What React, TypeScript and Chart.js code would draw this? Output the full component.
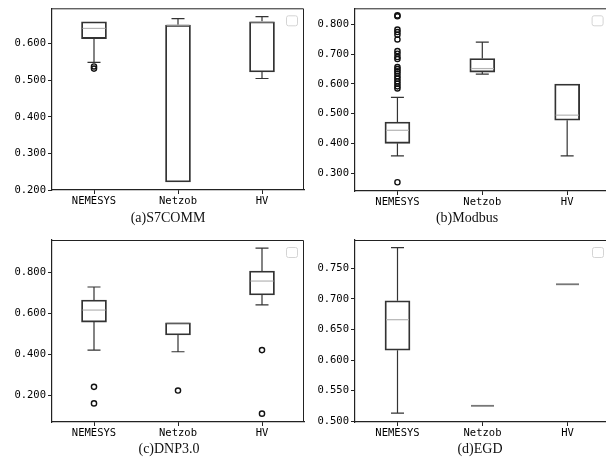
import React, { useEffect, useRef } from "react";
import { Chart, registerables } from "chart.js";
Chart.register(...registerables);

const categories = ["NEMESYS", "Netzob", "HV"];

// (a) S7COMM
const s7Low = [0.549, 0.222, 0.505];
const s7Q1 = [0.614, 0.222, 0.523];
const s7Median = [0.642, 0.651, 0.66];
const s7Q3 = [0.66, 0.651, 0.66];
const s7High = [0.66, 0.669, 0.674];
const s7Outliers = [[0.538, 0.532], [], []];
const s7Ticks = [0.2, 0.3, 0.4, 0.5, 0.6];

// (b) Modbus
const modLow = [0.358, 0.633, 0.358];
const modQ1 = [0.4, 0.64, 0.478];
const modMedian = [0.444, 0.652, 0.495];
const modQ3 = [0.472, 0.686, 0.6];
const modHigh = [0.555, 0.741, 0.6];
const modOutliers = [
  [0.269, 0.831, 0.828, 0.783, 0.775, 0.766, 0.75, 0.711, 0.702, 0.691, 0.684, 0.657, 0.65, 0.643, 0.635, 0.626, 0.618, 0.609, 0.601, 0.592, 0.585],
  [],
  [],
];
const modTicks = [0.3, 0.4, 0.5, 0.6, 0.7, 0.8];

// (c) DNP3.0
const dnpLow = [0.421, 0.413, 0.642];
const dnpQ1 = [0.558, 0.495, 0.691];
const dnpMedian = [0.617, 0.555, 0.759];
const dnpQ3 = [0.666, 0.555, 0.808];
const dnpHigh = [0.73, 0.555, 0.92];
const dnpOutliers = [[0.241, 0.16], [0.223], [0.421, 0.11]];
const dnpTicks = [0.2, 0.4, 0.6, 0.8];

// (d) EGD
const egdLow = [0.513, 0.525, 0.724];
const egdQ1 = [0.616, 0.525, 0.724];
const egdMedian = [0.666, 0.525, 0.724];
const egdQ3 = [0.697, 0.525, 0.724];
const egdHigh = [0.784, 0.525, 0.724];
const egdOutliers = [[], [], []];
const egdTicks = [0.5, 0.55, 0.6, 0.65, 0.7, 0.75];

type Panel = {
  caption: string;
  left: number;
  top: number;
  plotTop: number;
  plotBottom: number;
  plotRight: number;
  yMin: number;
  yMax: number;
  captionX: number;
  captionY: number;
  low: number[];
  q1: number[];
  median: number[];
  q3: number[];
  high: number[];
  outliers: number[][];
  ticks: number[];
};

const panels: Panel[] = [
  { caption: "(a)S7COMM", left: 0, top: 0, plotTop: 7, plotBottom: 190, plotRight: 304, yMin: 0.2, yMax: 0.697, captionX: 168, captionY: 210,
    low: s7Low, q1: s7Q1, median: s7Median, q3: s7Q3, high: s7High, outliers: s7Outliers, ticks: s7Ticks },
  { caption: "(b)Modbus", left: 303, top: 0, plotTop: 8, plotBottom: 191, plotRight: 307, yMin: 0.2395, yMax: 0.855, captionX: 467, captionY: 210,
    low: modLow, q1: modQ1, median: modMedian, q3: modQ3, high: modHigh, outliers: modOutliers, ticks: modTicks },
  { caption: "(c)DNP3.0", left: 0, top: 231, plotTop: 9, plotBottom: 191, plotRight: 304, yMin: 0.069, yMax: 0.96, captionX: 169, captionY: 441,
    low: dnpLow, q1: dnpQ1, median: dnpMedian, q3: dnpQ3, high: dnpHigh, outliers: dnpOutliers, ticks: dnpTicks },
  { caption: "(d)EGD", left: 303, top: 231, plotTop: 9, plotBottom: 191, plotRight: 307, yMin: 0.4985, yMax: 0.7965, captionX: 480, captionY: 441,
    low: egdLow, q1: egdQ1, median: egdMedian, q3: egdQ3, high: egdHigh, outliers: egdOutliers, ticks: egdTicks },
];

const CANVAS_W = 312;
const CANVAS_H = 215;
const Y_AXIS_W = 52;
const BOX_W = 25;
const CAP_W = 13;
const EDGE = "#333333";
const MEDIAN = "#b4b4b4";
const tickFont = { family: "'DejaVu Sans Mono', monospace", size: 10.5 };

function BoxPanel({ p }: { p: Panel }) {
  const ref = useRef<HTMLCanvasElement | null>(null);
  useEffect(() => {
    if (!ref.current) return;
    const extras = {
      id: "boxExtras",
      afterDatasetsDraw(chart: any) {
        const { ctx, chartArea, scales } = chart;
        const x = scales.x;
        const y = scales.y;
        ctx.save();
        ctx.lineWidth = 1.2;
        categories.forEach((_, i) => {
          const cx = x.getPixelForValue(i);
          const yl = y.getPixelForValue(p.low[i]);
          const y1 = y.getPixelForValue(p.q1[i]);
          const y3 = y.getPixelForValue(p.q3[i]);
          const yh = y.getPixelForValue(p.high[i]);
          const ym = y.getPixelForValue(p.median[i]);
          ctx.strokeStyle = EDGE;
          ctx.beginPath();
          ctx.moveTo(cx, y1);
          ctx.lineTo(cx, yl);
          ctx.moveTo(cx, y3);
          ctx.lineTo(cx, yh);
          if (Math.abs(yl - y1) > 0.5) {
            ctx.moveTo(cx - CAP_W / 2, yl);
            ctx.lineTo(cx + CAP_W / 2, yl);
          }
          if (Math.abs(yh - y3) > 0.5) {
            ctx.moveTo(cx - CAP_W / 2, yh);
            ctx.lineTo(cx + CAP_W / 2, yh);
          }
          ctx.stroke();
          const collapsed = Math.abs(y3 - y1) < 0.5;
          ctx.strokeStyle = collapsed ? "#777777" : MEDIAN;
          ctx.lineWidth = collapsed ? 1.8 : 1.2;
          ctx.beginPath();
          ctx.moveTo(cx - BOX_W / 2 + 1, ym);
          ctx.lineTo(cx + BOX_W / 2 - 1, ym);
          ctx.stroke();
          ctx.lineWidth = 1.2;
        });
        // top and right spines
        ctx.strokeStyle = "#222222";
        ctx.lineWidth = 1;
        ctx.beginPath();
        ctx.moveTo(chartArea.left, chartArea.top + 0.5);
        ctx.lineTo(chartArea.right - 0.5, chartArea.top + 0.5);
        ctx.lineTo(chartArea.right - 0.5, chartArea.bottom);
        ctx.stroke();
        // empty legend frame
        ctx.strokeStyle = "#d4d4d4";
        ctx.beginPath();
        ctx.roundRect(chartArea.right - 17.5, chartArea.top + 7.5, 11, 10, 2);
        ctx.stroke();
        ctx.restore();
      },
    };
    const outlierData: any[] = [];
    p.outliers.forEach((list, i) => list.forEach((v) => outlierData.push({ x: categories[i], y: v })));
    const chart = new Chart(ref.current, {
      type: "bar",
      data: {
        labels: categories,
        datasets: [
          {
            type: "bar",
            data: categories.map((_, i) => [p.q1[i], p.q3[i]]),
            backgroundColor: "rgba(255,255,255,0)",
            borderColor: EDGE,
            borderWidth: 1.2,
            borderSkipped: false,
            barThickness: BOX_W,
          } as any,
          {
            type: "line",
            data: outlierData,
            showLine: false,
            pointStyle: "circle",
            pointRadius: 2.6,
            pointBorderWidth: 1.4,
            pointBorderColor: "#111111",
            pointBackgroundColor: "rgba(255,255,255,0)",
          } as any,
        ],
      },
      options: {
        responsive: false,
        animation: false,
        layout: { padding: { left: 0, right: CANVAS_W - p.plotRight, top: p.plotTop, bottom: 0 } },
        plugins: { legend: { display: false }, tooltip: { enabled: false } },
        scales: {
          x: {
            type: "category",
            offset: true,
            grid: { display: true, drawOnChartArea: false, drawTicks: true, tickLength: 4, offset: false, color: "#222222" },
            border: { display: true, color: "#222222", width: 1.2 },
            ticks: { font: tickFont, color: "#000000", padding: 1, maxRotation: 0 },
            afterFit: (s: any) => { s.height = CANVAS_H - p.plotBottom; },
          },
          y: {
            type: "linear",
            min: p.yMin,
            max: p.yMax,
            grid: { display: true, drawOnChartArea: false, drawTicks: true, tickLength: 4, color: "#222222" },
            border: { display: true, color: "#222222", width: 1.2 },
            ticks: { font: tickFont, color: "#000000", padding: 2, callback: (v: any) => Number(v).toFixed(3) },
            afterBuildTicks: (s: any) => { s.ticks = p.ticks.map((v) => ({ value: v })); },
            afterFit: (s: any) => { s.width = Y_AXIS_W; },
          },
        },
      } as any,
      plugins: [extras],
    });
    return () => chart.destroy();
  }, [p]);
  return (
    <canvas
      ref={ref}
      width={CANVAS_W}
      height={CANVAS_H}
      style={{ position: "absolute", left: p.left, top: p.top, width: CANVAS_W, height: CANVAS_H }}
    />
  );
}

export default function App() {
  return (
    <div style={{ position: "fixed", left: 0, top: 0, width: 606, height: 462, overflow: "hidden", background: "#ffffff" }}>
      {panels.map((p) => (
        <BoxPanel key={p.caption} p={p} />
      ))}
      {panels.map((p) => (
        <div
          key={p.caption + "-cap"}
          style={{
            position: "absolute",
            left: p.captionX - 60,
            top: p.captionY,
            width: 120,
            textAlign: "center",
            fontFamily: "'Liberation Serif', 'Times New Roman', serif",
            fontSize: 14,
            lineHeight: "16px",
            color: "#111111",
            whiteSpace: "nowrap",
          }}
        >
          {p.caption}
        </div>
      ))}
    </div>
  );
}
